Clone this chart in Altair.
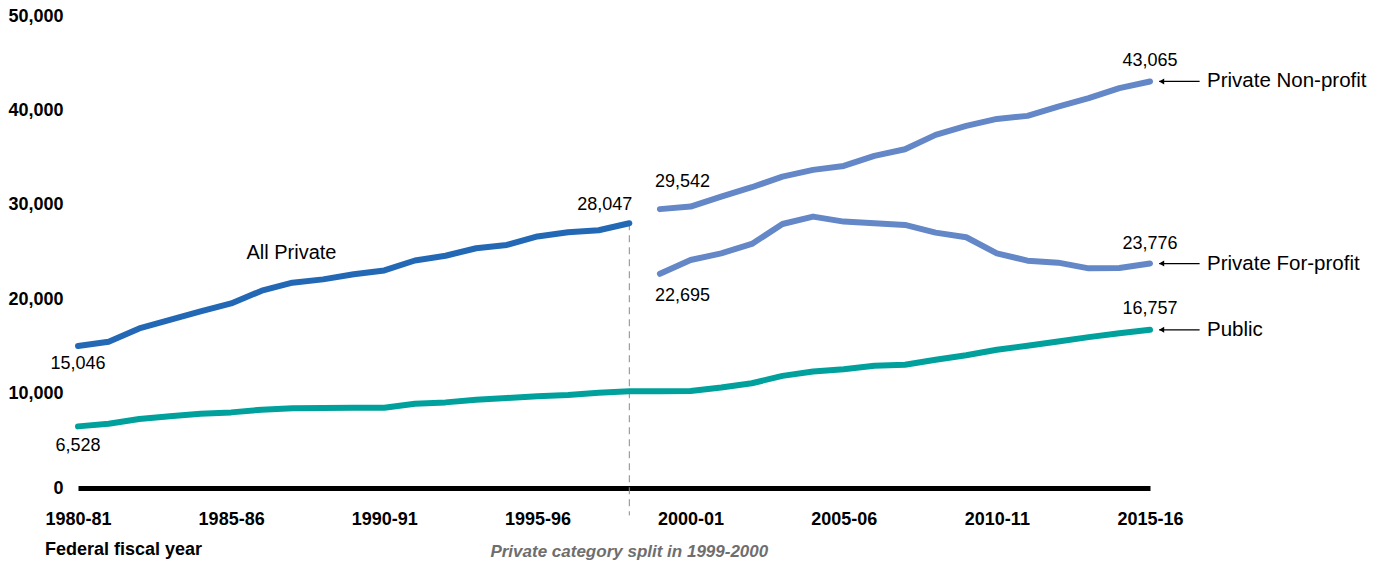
import altair as alt
import pandas as pd

# ---------------- data ----------------
start_years = list(range(1980, 2016))          # fiscal years 1980-81 ... 2015-16
tick_years = [1980, 1985, 1990, 1995, 2000, 2005, 2010, 2015]
tick_labels = ["1980-81", "1985-86", "1990-91", "1995-96",
               "2000-01", "2005-06", "2010-11", "2015-16"]
y_ticks = [0, 10000, 20000, 30000, 40000, 50000]

public = [6528, 6810, 7300, 7590, 7870, 8010, 8300, 8440, 8470, 8500,
          8510, 8930, 9070, 9350, 9530, 9710, 9850, 10100, 10250,
          10250, 10270, 10640, 11100, 11880, 12340, 12590, 12940, 13050,
          13580, 14070, 14640, 15060, 15520, 15980, 16400, 16757]

all_private_years = list(range(1980, 1999))
all_private = [15046, 15500, 16900, 17800, 18700, 19550, 20900, 21750, 22100,
               22650, 23050, 24100, 24600, 25400, 25750, 26650, 27100, 27300, 28047]

split_years = list(range(1999, 2016))
non_profit = [29542, 29810, 30870, 31860, 32990, 33700, 34120, 35180, 35890,
              37410, 38360, 39100, 39420, 40410, 41300, 42360, 43065]
for_profit = [22695, 24150, 24860, 25850, 27970, 28750, 28220, 28040, 27870,
              27050, 26560, 24860, 24080, 23870, 23270, 23300, 23776]

series_names = ["All Private", "Private Non-profit", "Private For-profit", "Public"]
series_colors = ["#2268b5", "#6387c7", "#6387c7", "#00a19c"]

rows = []
for y, v in zip(all_private_years, all_private):
    rows.append({"year": y, "value": v, "series": "All Private"})
for y, v in zip(split_years, non_profit):
    rows.append({"year": y, "value": v, "series": "Private Non-profit"})
for y, v in zip(split_years, for_profit):
    rows.append({"year": y, "value": v, "series": "Private For-profit"})
for y, v in zip(start_years, public):
    rows.append({"year": y, "value": v, "series": "Public"})
df = pd.DataFrame(rows)

FONT = "Liberation Sans"
W, H = 1072, 472

x_scale = alt.Scale(domain=[1980, 2015], nice=False, zero=False)
y_scale = alt.Scale(domain=[0, 50000], nice=False)

label_expr = "{" + ",".join(f"'{y}':'{l}'" for y, l in zip(tick_years, tick_labels)) + "}[datum.value]"

base = alt.Chart(df)

lines = base.mark_line(strokeWidth=6, strokeCap="round", strokeJoin="round").encode(
    x=alt.X("year:Q", scale=x_scale,
            axis=alt.Axis(values=tick_years, labelExpr=label_expr, title=None,
                          domain=True, domainColor="black", domainWidth=5,
                          ticks=False, tickSize=0, grid=False,
                          labelFont=FONT, labelFontWeight="bold", labelFontSize=18,
                          labelColor="black", labelPadding=22, labelFlush=False)),
    y=alt.Y("value:Q", scale=y_scale,
            axis=alt.Axis(values=y_ticks, labelExpr="format(datum.value, ',')",
                          title=None, domain=False, ticks=False, tickSize=0, grid=False,
                          labelFont=FONT, labelFontWeight="bold", labelFontSize=18,
                          labelColor="black", labelPadding=15)),
    color=alt.Color("series:N", scale=alt.Scale(domain=series_names, range=series_colors),
                    legend=None),
    detail="series:N",
)

# dashed split line
split_df = pd.DataFrame({"year": [all_private_years[-1]], "value": [all_private[-1]]})
split_rule = alt.Chart(split_df).mark_rule(color="#8a8a8a", strokeWidth=1,
                                           strokeDash=[7, 5]).encode(
    x="year:Q", y="value:Q", y2=alt.datum(-2900))

split_note = alt.Chart(split_df).mark_text(
    text="Private category split in 1999-2000", font=FONT, fontSize=17,
    fontWeight="bold", fontStyle="italic", color="#6e6e6e", align="center",
    baseline="middle").encode(x="year:Q", y=alt.value(536))

x_title = alt.Chart(split_df).mark_text(
    text="Federal fiscal year", font=FONT, fontSize=18, fontWeight="bold",
    color="black", align="left", baseline="middle").encode(
    x=alt.value(-33), y=alt.value(534))

# value labels
def val_label(year, value, align, dx, dy):
    d = pd.DataFrame({"year": [year], "value": [value], "txt": [f"{value:,}"]})
    return alt.Chart(d).mark_text(font=FONT, fontSize=18, color="black",
                                  align=align, baseline="middle", dx=dx, dy=dy).encode(
        x="year:Q", y="value:Q", text="txt:N")

labels = [
    val_label(all_private_years[0], all_private[0], "center", 0, 18),
    val_label(start_years[0], public[0], "center", 0, 20),
    val_label(all_private_years[-1], all_private[-1], "right", 3, -18),
    val_label(split_years[0], non_profit[0], "left", -5, -27),
    val_label(split_years[0], for_profit[0], "left", -5, 22),
    val_label(split_years[-1], non_profit[-1], "center", 0, -20),
    val_label(split_years[-1], for_profit[-1], "center", 0, -20),
    val_label(start_years[-1], public[-1], "center", 0, -21),
]

# end arrows + series labels
end_df = pd.DataFrame({
    "year": [2015, 2015, 2015],
    "value": [non_profit[-1], for_profit[-1], public[-1]],
    "name": ["Private Non-profit", "Private For-profit", "Public"],
})
arrow_shaft = alt.Chart(end_df).mark_rule(color="black", strokeWidth=1.2).encode(
    x=alt.datum(2015.3), x2=alt.datum(2016.62), y="value:Q")
arrow_head = alt.Chart(end_df).mark_point(shape="triangle-left", filled=True,
                                          color="black", size=35, opacity=1).encode(
    x=alt.datum(2015.38), y="value:Q")
end_names = alt.Chart(end_df).mark_text(font=FONT, fontSize=20.5, color="black",
                                        align="left", baseline="middle", dx=57).encode(
    x="year:Q", y="value:Q", text="name:N")

all_priv_df = pd.DataFrame({"year": [1985.5], "value": [24900], "txt": ["All Private"]})
all_priv_label = alt.Chart(all_priv_df).mark_text(font=FONT, fontSize=20, color="black",
                                                  align="left", baseline="middle").encode(
    x="year:Q", y="value:Q", text="txt:N")

chart = alt.layer(
    split_rule, lines, *labels, arrow_shaft, arrow_head, end_names,
    all_priv_label, split_note, x_title,
).properties(
    width=W, height=H,
    padding={"left": 78, "top": 16, "right": 1384 - 78 - W, "bottom": 564 - 16 - H},
    autosize=alt.AutoSizeParams(type="none"),
).configure(background="white").configure_view(strokeWidth=0, stroke=None)

chart.save("out.html", embed_options={"renderer": "svg", "actions": False})
